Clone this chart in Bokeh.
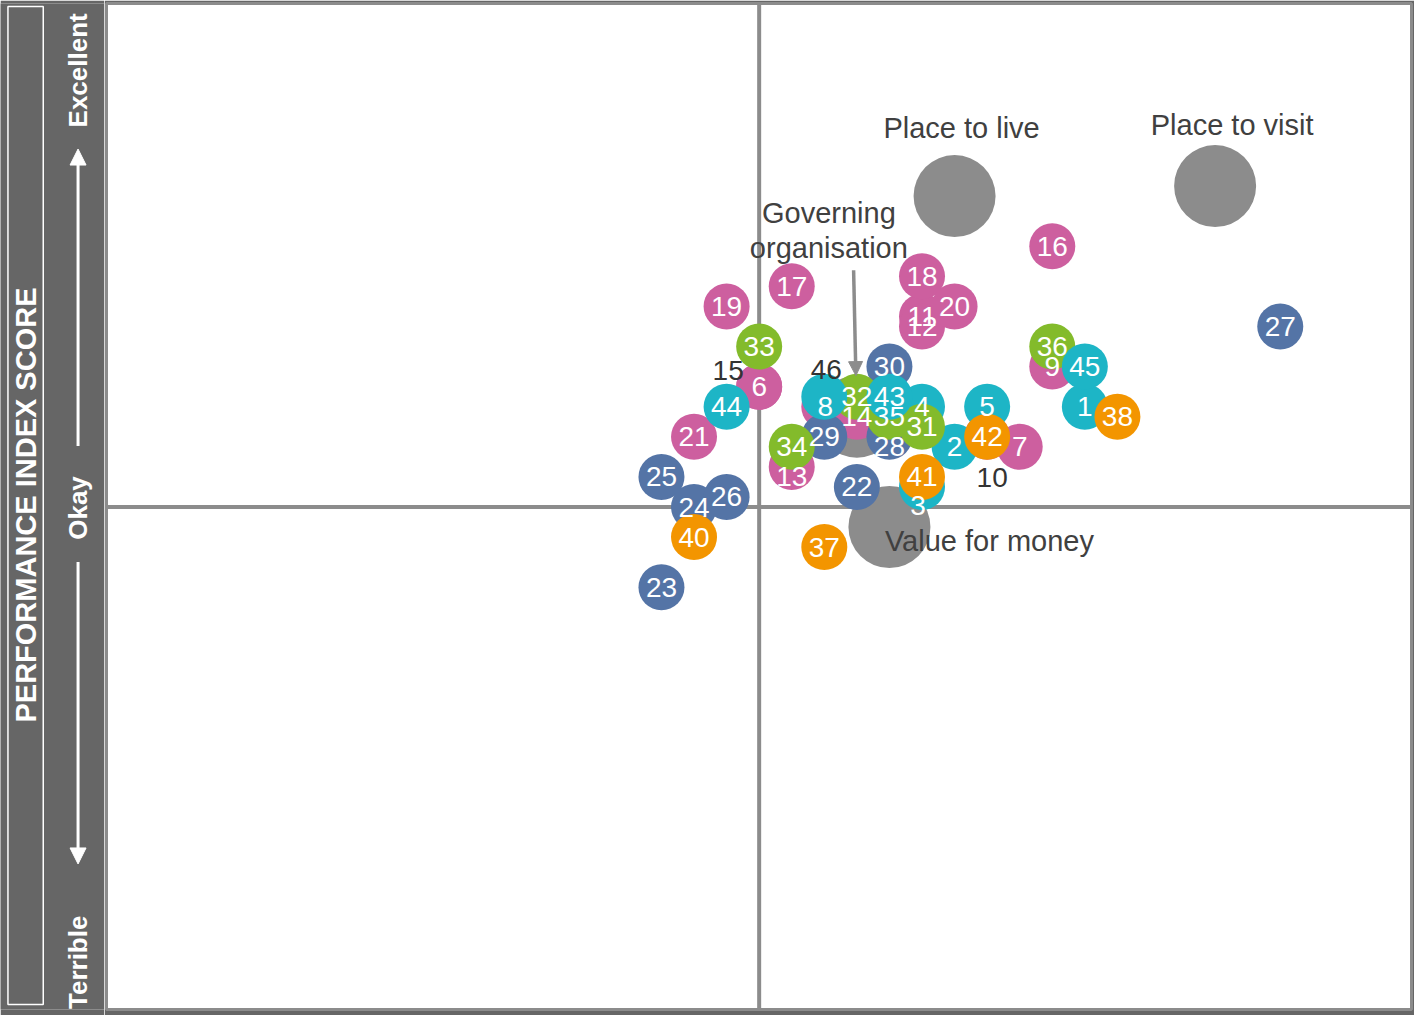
import math
from bokeh.plotting import figure
from bokeh.layouts import row
from bokeh.models import Range1d, Span, Arrow, NormalHead, ColumnDataSource
from bokeh.core.properties import value
from bokeh.embed import file_html
from bokeh.resources import INLINE

# ---------------- data (scores) ----------------
# numbered areas per group, listed in drawing order
pink_ids = [15, 10, 46, 6, 7, 9, 11, 12, 13, 14, 16, 17, 18, 19, 20, 21]
pink_x = [0, 7, 2, 0, 8, 9, 5, 5, 1, 3, 9, 1, 5, -1, 6, -2]
pink_y = [12, 7, 10, 12, 6, 14, 19, 18, 4, 9, 26, 22, 23, 20, 20, 7]

blue_ids = [22, 23, 24, 25, 26, 27, 28, 29, 30]
blue_x = [3, -3, -2, -3, -1, 16, 4, 2, 4]
blue_y = [2, -8, 0, 3, 1, 18, 7, 7, 14]

teal_a_ids = [1, 2, 3, 4, 5]
teal_a_x = [10, 6, 5, 5, 7]
teal_a_y = [10, 6, 2, 10, 10]

green_ids = [31, 32, 33, 34, 35, 36]
green_x = [5, 3, 0, 1, 4, 9]
green_y = [8, 11, 16, 6, 9, 16]

orange_ids = [37, 38, 40, 41, 42]
orange_x = [2, 11, -2, 5, 7]
orange_y = [-4, 9, -3, 3, 7]

teal_b_ids = [8, 43, 44, 45]
teal_b_x = [2, 4, -1, 10]
teal_b_y = [11, 11, 10, 14]

# overall benchmark areas (grey)
area_names = ["Governing\norganisation", "Place to live", "Place to visit", "Value for money"]
area_x = [3, 6, 14, 4]
area_y = [9, 31, 32, -2]

axis_words = ["Excellent", "Okay", "Terrible"]
panel_title = "PERFORMANCE INDEX SCORE"

# ---------------- styles ----------------
COLORS = {"pink": "#CD5F9F", "blue": "#5474A6", "teal": "#1DB5C6",
          "green": "#83BB2B", "orange": "#F39500"}
GREY = "#8C8C8C"
PANEL = "#666666"
FONT = value("Liberation Sans")
hidden_ids = {10, 15, 46}
# label nudges in screen pixels (dx, dy)
label_nudge = {3: (-4, 19), 8: (1, 10), 13: (0, 10), 28: (0, 10),
               10: (5, 41), 15: (-31, -16), 46: (2, -37)}
area_label_nudge = [(-28, -186), (7, -68), (17, -61), (100, 14)]

groups = [("pink", pink_ids, pink_x, pink_y),
          ("blue", blue_ids, blue_x, blue_y),
          ("teal", teal_a_ids, teal_a_x, teal_a_y),
          ("green", green_ids, green_x, green_y),
          ("orange", orange_ids, orange_x, orange_y),
          ("teal", teal_b_ids, teal_b_x, teal_b_y)]

xs, ys, labels, fills, tcols, dxs, dys = [], [], [], [], [], [], []
for g, ids, gx, gy in groups:
    for i, x, y in zip(ids, gx, gy):
        xs.append(x)
        ys.append(y)
        labels.append(str(i))
        fills.append(COLORS[g])
        tcols.append("#333333" if i in hidden_ids else "white")
        d = label_nudge.get(i, (0, 0))
        dxs.append(d[0])
        dys.append(d[1])

src = ColumnDataSource(dict(x=xs, y=ys, label=labels, fill=fills, tcol=tcols,
                            dx=dxs, dy=dys))

# ---------------- left panel ----------------
LEFT_W = 104
left = figure(width=LEFT_W, height=1015, x_range=Range1d(0, 104.6), y_range=Range1d(1023, 0),
              x_axis_type=None, y_axis_type=None, output_backend="svg",
              toolbar_location=None, min_border=0,
              background_fill_color=PANEL, border_fill_color=PANEL,
              outline_line_color=None)
left.grid.visible = False
left.quad(left=7.5, right=43, top=3, bottom=1018, fill_color=None,
          line_color="white", line_width=1.5)
left.text(x=[26], y=[510], text=[panel_title], angle=math.pi / 2,
          text_color="white", text_font=FONT, text_font_style="bold",
          text_font_size="29px", text_align="center", text_baseline="middle")
left.text(x=[78, 78, 78], y=[68, 513, 975], text=axis_words,
          angle=math.pi / 2, text_color="white", text_font=FONT,
          text_font_style="bold", text_font_size="26px",
          text_align="center", text_baseline="middle")
left.add_layout(Arrow(end=NormalHead(size=16, fill_color="white", line_color="white"),
                      x_start=78, y_start=450, x_end=78, y_end=148,
                      line_color="white", line_width=3))
left.add_layout(Arrow(end=NormalHead(size=16, fill_color="white", line_color="white"),
                      x_start=78, y_start=568, x_end=78, y_end=875,
                      line_color="white", line_width=3))

# ---------------- main chart ----------------
p = figure(width=1414 - LEFT_W, height=1015, x_range=Range1d(-20.04, 20.03),
           y_range=Range1d(-50.1, 50.2),
           x_axis_type=None, y_axis_type=None, output_backend="svg",
           toolbar_location=None,
           min_border_left=2, min_border_right=3, min_border_top=3, min_border_bottom=6,
           background_fill_color="white", border_fill_color=PANEL,
           outline_line_color=GREY, outline_line_width=3)
p.grid.visible = False

p.add_layout(Span(location=0, dimension="height", line_color=GREY, line_width=4,
                  level="underlay"))
p.add_layout(Span(location=0, dimension="width", line_color=GREY, line_width=4,
                  level="underlay"))

p.scatter(x=area_x, y=area_y, size=82, marker="circle", fill_color=GREY,
          line_color=None)

p.scatter(x="x", y="y", source=src, size=46, marker="circle", fill_color="fill",
          line_color=None)
p.text(x="x", y="y", text="label", source=src, text_color="tcol", text_font=FONT,
       text_font_size="28px", text_align="center", text_baseline="middle",
       x_offset="dx", y_offset="dy")

p.text(x=area_x, y=area_y, text=area_names,
       x_offset=[d[0] for d in area_label_nudge], y_offset=[d[1] for d in area_label_nudge],
       text_color="#404040", text_font=FONT, text_font_size="29px",
       text_align="center", text_baseline="middle", text_line_height=1.1)

p.add_layout(Arrow(end=NormalHead(size=14, fill_color=GREY, line_color=GREY),
                   x_start=2.9, y_start=23.6, x_end=2.97, y_end=13.1,
                   line_color=GREY, line_width=3.5))

layout = row(left, p)
open("out.html", "w").write(file_html(layout, INLINE))
